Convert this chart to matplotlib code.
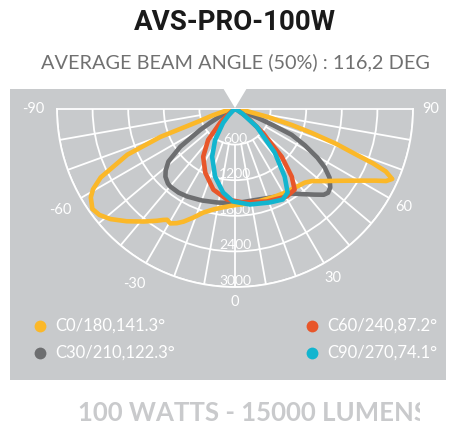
import numpy as np
import matplotlib
matplotlib.use("Agg")
import matplotlib.pyplot as plt
from matplotlib.patches import Rectangle, Polygon

# ---------------- data ----------------
title = "AVS-PRO-100W"
subtitle = "AVERAGE BEAM ANGLE (50%) : 116,2 DEG"
footer = "100 WATTS - 15000 LUMENS"

ring_values = [600, 1200, 1800, 2400, 3000]
angle_labels = [-90, -60, -30, 0, 30, 60, 90]

series_names = ["C30/210,122.3°", "C0/180,141.3°", "C60/240,87.2°", "C90/270,74.1°"]

c0_ang = [-90, -80, -74, -71, -69.5, -67, -63, -60.5, -58.5, -55, -52, -48.5, -44, -39, -35,
          -33, -31.5, -29.5, -27, -24.5, -21, -17, -12, -7, 0, 5, 10, 15, 24, 30, 38, 43.5,
          47, 51, 55, 58, 61, 63, 64.5, 66, 67.5, 68.5, 69.5, 71, 72.7, 74.3, 76.4, 80, 85, 90]
c0_cd = [0, 150, 400, 670, 1340, 1970, 2540, 2750, 2850, 2935, 2900, 2800, 2630, 2440, 2300,
         2230, 2190, 2215, 2160, 2085, 1960, 1825, 1730, 1670, 1620, 1610, 1600, 1605, 1620, 1640,
         1670, 1710, 1780, 1930, 2110, 2280, 2490, 2660, 2820, 2900, 2750, 2500, 2150, 1800,
         1350, 990, 570, 200, 50, 0]

c30_ang = [-90, -75, -65, -61, -59, -55.4, -51.7, -48.5, -45.8, -42, -39.8, -34, -28.6, -20,
           -10.8, 0, 14, 25, 33.8, 38, 42.9, 46, 48, 50.5, 54, 57, 59.4, 62.5, 65.5, 67, 68.6,
           75, 90]
c30_cd = [0, 80, 250, 480, 684, 1120, 1430, 1560, 1636, 1690, 1702, 1700, 1680, 1640,
          1604, 1590, 1575, 1630, 1715, 1820, 1970, 2080, 2110, 2080, 1970, 1800, 1615, 1330,
          1050, 700, 414, 100, 0]

c60_ang = [-90, -60, -50, -47, -41, -33.7, -25, -15, -5, 5, 19, 30.6, 36.5, 40, 44.4, 49.4,
           56, 65, 90]
c60_cd = [0, 30, 200, 344, 690, 967, 1185, 1407, 1531, 1581, 1649, 1713, 1689, 1487, 1126,
          618, 240, 50, 0]

c90_ang = [-90, -55, -45, -40.6, -32.8, -25.6, -16.4, -8.1, -1.2, 8.9, 20.4, 27.8, 32.2, 36.3,
           42.3, 50.7, 58, 70, 90]
c90_cd = [0, 30, 150, 309, 618, 892, 1188, 1422, 1559, 1629, 1681, 1724, 1665, 1415, 997,
          476, 150, 20, 0]

series_angles = [c30_ang, c0_ang, c60_ang, c90_ang]
series_values = [c30_cd, c0_cd, c60_cd, c90_cd]
series_colors = ["#6d6e70", "#fbb829", "#e8562a", "#12b5cf"]

# ---------------- figure ----------------
W, H = 455, 426
fig = plt.figure(figsize=(W / 100, H / 100), dpi=100)
fig.patch.set_facecolor("white")

# background / decoration axes in pixel coordinates
bg = fig.add_axes([0, 0, 1, 1])
bg.set_xlim(0, W)
bg.set_ylim(H, 0)
bg.axis("off")
box_color = "#c8cacc"
bg.add_patch(Rectangle((10, 89), 436, 291, facecolor=box_color, edgecolor="none", zorder=0))
bg.add_patch(Polygon([(223, 88), (247, 88), (235, 108)], closed=True, facecolor="white",
                     edgecolor="none", zorder=1))

bg.text(235, 22, title, ha="center", va="center", fontsize=20, fontweight="bold",
        family=["Roboto", "DejaVu Sans"], color="#1a1a1a")
bg.text(235, 62, subtitle, ha="center", va="center", fontsize=14.3,
        family=["Lato", "DejaVu Sans"], color="#707070")

bg.text(78, 413, footer, ha="left", va="center", fontsize=18.5, fontweight="bold",
        family=["Lato", "DejaVu Sans"], color="#c9cacc", zorder=2)
# the footer is cut off at the right, as in the source image
bg.add_patch(Rectangle((420, 392), 35, 34, facecolor="white", edgecolor="none", zorder=3))

# legend (two columns)
legend_order = [1, 2, 0, 3]
legend_pos = [(40, 326), (312, 326), (40, 353), (312, 353)]
for idx, (lx, ly) in zip(legend_order, legend_pos):
    bg.plot([lx], [ly], marker="o", markersize=8.5, color=series_colors[idx],
            markeredgewidth=0, zorder=3)
    bg.text(lx + 15, ly, series_names[idx], ha="left", va="center", fontsize=12,
            family=["Lato", "DejaVu Sans"], color="white", zorder=3)

# ---------------- polar diagram ----------------
# half-disk centre (cx, cy), radius R in pixels; polar axes box is square and
# the half wedge is centred inside it
cx, cy, R = 235, 109, 178
box_top = cy + R / 2 - R
ax = fig.add_axes([(cx - R) / W, (H - (box_top + 2 * R)) / H, 2 * R / W, 2 * R / H],
                  projection="polar")
ax.set_facecolor("none")
ax.set_theta_zero_location("S")
ax.set_theta_direction(1)
ax.set_thetamin(-90)
ax.set_thetamax(90)
ax.set_ylim(0, 3000)
ax.set_yticks(ring_values)
ax.set_yticklabels([])
ax.set_xticks([])
ax.grid(False)
ax.yaxis.grid(True, color="white", linewidth=1.3)
for s in ax.spines.values():
    s.set_color("white")
    s.set_linewidth(1.3)

# spokes every 10 degrees (from first ring out)
for a in range(-80, 90, 10):
    ax.plot([np.deg2rad(a)] * 2, [ring_values[0], ring_values[-1]], color="white",
            linewidth=1.3, zorder=1)

# ring labels along 0 deg
for v in ring_values:
    ax.text(0, v, str(v), ha="center", va="bottom", fontsize=10,
            family=["Lato", "DejaVu Sans"], color="white", zorder=2)

# angle labels
for a in angle_labels:
    rr = 3400 if a < 0 else (3250 if a == 0 else 3290)
    ax.text(np.deg2rad(a), rr, str(a), ha="center", va="center", fontsize=10.5,
            family=["Lato", "DejaVu Sans"], color="white", clip_on=False)

# curves
for angs, vals, col in zip(series_angles, series_values, series_colors):
    ax.plot(np.deg2rad(angs), vals, color=col, linewidth=3.3, solid_joinstyle="round",
            solid_capstyle="round", zorder=4)

fig.savefig("out.png", dpi=100, facecolor="white")
